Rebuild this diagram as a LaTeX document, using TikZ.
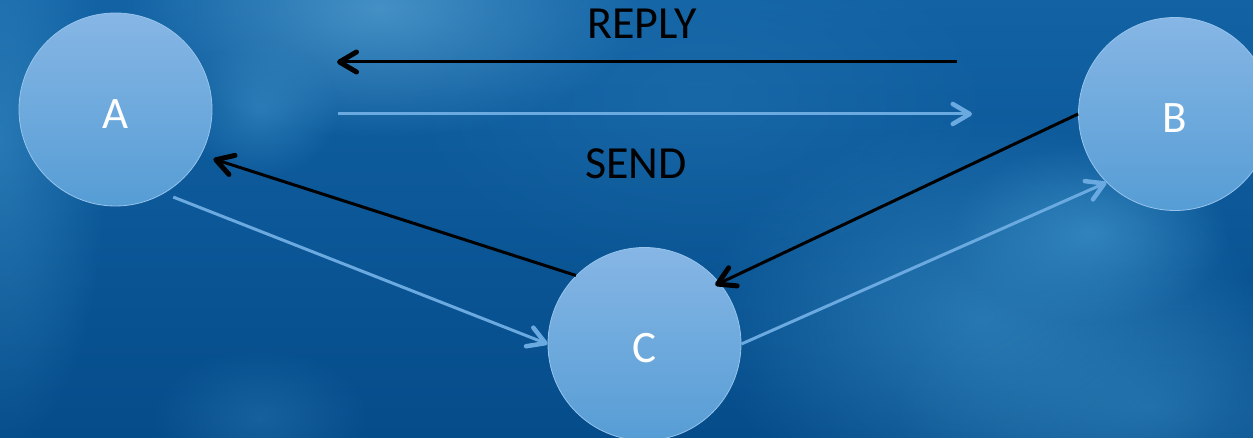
\documentclass[tikz,border=0pt]{standalone}
\usepackage{fontspec}
\setmainfont{Carlito}
\usetikzlibrary{arrows.meta,fadings}
\tikzfading[name=blobfade, inner color=transparent!0, outer color=transparent!100]
\definecolor{bgtop}{RGB}{18,98,164}
\definecolor{bgbot}{RGB}{5,76,138}
\definecolor{cloud}{RGB}{90,165,212}
\definecolor{cloudb}{RGB}{60,145,200}
\definecolor{nodetop}{RGB}{134,182,229}
\definecolor{nodebot}{RGB}{86,157,213}
\definecolor{nodeedge}{RGB}{150,196,236}
\definecolor{lightarrow}{RGB}{106,170,224}
\begin{document}
\begin{tikzpicture}[x=1pt,y=1pt,
  nodecircle/.style={circle, minimum size=193pt, inner sep=0pt,
    top color=nodetop, bottom color=nodebot, draw=nodeedge, line width=0.8pt,
    text=white, font=\fontsize{45}{45}\selectfont, text height=38pt, text depth=0pt},
  blackarrow/.style={draw=black, line width=3pt,
    -{Straight Barb[length=17pt, width=20pt, line width=5pt, round]}},
  lightarr/.style={draw=lightarrow, line width=3pt,
    -{Straight Barb[length=17pt, width=20pt, line width=4.5pt, round]}},
  label/.style={text=black, font=\fontsize{46}{46}\selectfont, anchor=base, inner sep=0pt}]
\useasboundingbox (0,0) rectangle (1253,438);
\clip (0,0) rectangle (1253,438);
% background
\shade[top color=bgtop, bottom color=bgbot] (0,0) rectangle (1253,438);
\fill[cloud, path fading=blobfade, fill opacity=0.7] (380,430) ellipse (260 and 130);
\fill[cloudb, path fading=blobfade, fill opacity=0.55] (0,300) ellipse (110 and 320);
\fill[cloudb, path fading=blobfade, fill opacity=0.55] (260,330) ellipse (80 and 70);
\fill[cloudb, path fading=blobfade, fill opacity=0.7] (1090,205) ellipse (140 and 90);
\fill[cloudb, path fading=blobfade, fill opacity=0.6] (980,120) ellipse (280 and 200);
\fill[cloudb, path fading=blobfade, fill opacity=0.45] (1150,30) ellipse (260 and 140);
\fill[cloudb, path fading=blobfade, fill opacity=0.3] (260,20) ellipse (110 and 70);
\fill[cloudb, path fading=blobfade, fill opacity=0.2] (700,340) ellipse (300 and 180);
% nodes
\node[nodecircle] (A) at (115.5,328.5) {A};
\node[nodecircle] (B) at (1175,324) {B};
\node[nodecircle] (C) at (644.5,94) {C};
% top arrows
\coordinate (r1) at (957,376);
\coordinate (r2) at (337,376);
\coordinate (s1) at (338,324);
\coordinate (s2) at (972,324);
\draw[blackarrow] (r1) -- (r2);
\draw[lightarr] (s1) -- (s2);
\node[label] (reply) at (642,399) {REPLY};
\node[label] (send) at (636,259) {SEND};
% connectors
\draw[lightarr, shorten <=10pt] (A.-60) -- (C.west);
\draw[blackarrow, shorten >=13pt] (C.135) -- (A.-28);
\draw[blackarrow, shorten >=-5pt] (B.west) -- (C.39);
\draw[lightarr] (C.east) -- (B.225);
\end{tikzpicture}
\end{document}
